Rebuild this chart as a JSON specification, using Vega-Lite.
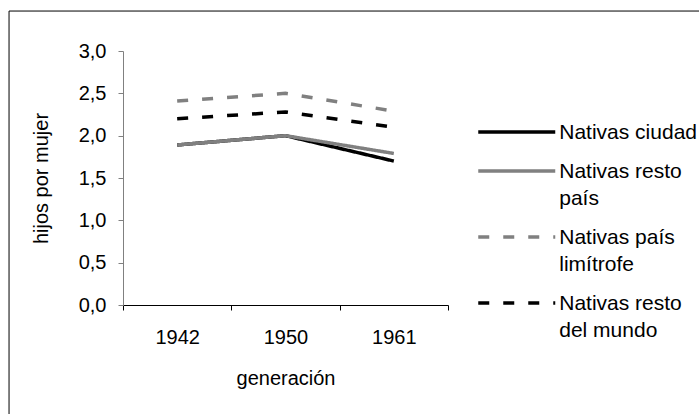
{
  "$schema": "https://vega.github.io/schema/vega-lite/v6.json",
  "width": 325,
  "height": 254,
  "autosize": {"type": "none"},
  "padding": {"left": 123, "top": 51, "right": 251, "bottom": 109},
  "background": "white",
  "config": {
    "font": "Liberation Sans",
    "view": {"stroke": null},
    "style": {"guide-label": {"dy": 7, "lineHeight": 27}}
  },
  "layer": [
    {
      "data": {"values": [{"x0": -1.052, "x1": 6, "y0": 3.472, "y1": -2}]},
      "mark": {"type": "rect", "filled": false, "stroke": "black", "strokeWidth": 1},
      "encoding": {
        "x": {"field": "x0", "type": "quantitative", "scale": {"domain": [0, 3], "nice": false, "zero": false}, "axis": null},
        "x2": {"field": "x1"},
        "y": {"field": "y0", "type": "quantitative", "scale": {"domain": [0, 3], "nice": false, "zero": false}, "axis": null},
        "y2": {"field": "y1"}
      }
    },
    {
      "data": {
        "values": [
          {"serie": "Nativas ciudad", "gen": "1942", "v": 1.89},
          {"serie": "Nativas ciudad", "gen": "1950", "v": 2.0},
          {"serie": "Nativas ciudad", "gen": "1961", "v": 1.70},
          {"serie": "Nativas resto país", "gen": "1942", "v": 1.89},
          {"serie": "Nativas resto país", "gen": "1950", "v": 2.0},
          {"serie": "Nativas resto país", "gen": "1961", "v": 1.79},
          {"serie": "Nativas país limítrofe", "gen": "1942", "v": 2.41},
          {"serie": "Nativas país limítrofe", "gen": "1950", "v": 2.5},
          {"serie": "Nativas país limítrofe", "gen": "1961", "v": 2.29},
          {"serie": "Nativas resto del mundo", "gen": "1942", "v": 2.2},
          {"serie": "Nativas resto del mundo", "gen": "1950", "v": 2.28},
          {"serie": "Nativas resto del mundo", "gen": "1961", "v": 2.1}
        ]
      },
      "mark": {"type": "line", "strokeWidth": 3.5, "strokeCap": "butt"},
      "encoding": {
        "x": {
          "field": "gen", "type": "ordinal",
          "scale": {"type": "band", "paddingInner": 0, "paddingOuter": 0},
          "axis": {
            "title": "generación", "labelAngle": 0, "tickBand": "extent", "tickSize": 5,
            "tickColor": "black", "domainColor": "black", "labelColor": "black", "titleColor": "black",
            "labelFontSize": 20, "labelPadding": 10, "titleFontSize": 20, "titleFontWeight": "normal",
            "titlePadding": 21, "grid": false
          }
        },
        "y": {
          "field": "v", "type": "quantitative",
          "scale": {"domain": [0, 3], "nice": false, "zero": false},
          "axis": {
            "title": "hijos por mujer", "values": [0, 0.5, 1, 1.5, 2, 2.5, 3],
            "labelExpr": "replace(format(datum.value, '.1f'), '.', ',')",
            "tickSize": 5, "grid": false, "tickColor": "#808080", "domainColor": "#808080",
            "labelColor": "black", "titleColor": "black",
            "labelFontSize": 20, "labelPadding": 12, "labelOffset": -7,
            "titleFontSize": 20, "titleFontWeight": "normal", "titlePadding": 27
          }
        },
        "color": {
          "field": "serie", "type": "nominal",
          "scale": {
            "domain": ["Nativas ciudad", "Nativas resto país", "Nativas país limítrofe", "Nativas resto del mundo"],
            "range": ["#000000", "#808080", "#808080", "#000000"]
          },
          "legend": {
            "orient": "none", "legendX": 355, "legendY": 69, "title": null,
            "symbolType": "M-3.85,0H3.85", "symbolSize": 400, "symbolStrokeWidth": 3.5,
            "symbolOffset": 26.75,
            "labelFontSize": 21, "labelColor": "black", "labelBaseline": "alphabetic",
            "labelOffset": 30.5, "rowPadding": 16, "padding": 0, "labelLimit": 0,
            "labelExpr": "datum.label == 'Nativas resto país' ? ['Nativas resto', 'país'] : datum.label == 'Nativas país limítrofe' ? ['Nativas país', 'limítrofe'] : datum.label == 'Nativas resto del mundo' ? ['Nativas resto', 'del mundo'] : datum.label"
          }
        },
        "strokeDash": {
          "field": "serie", "type": "nominal",
          "scale": {
            "domain": ["Nativas ciudad", "Nativas resto país", "Nativas país limítrofe", "Nativas resto del mundo"],
            "range": [[1, 0], [1, 0], [11, 14], [11, 14]]
          }
        }
      }
    }
  ],
  "resolve": {"scale": {"x": "independent"}, "axis": {"y": "independent"}}
}
